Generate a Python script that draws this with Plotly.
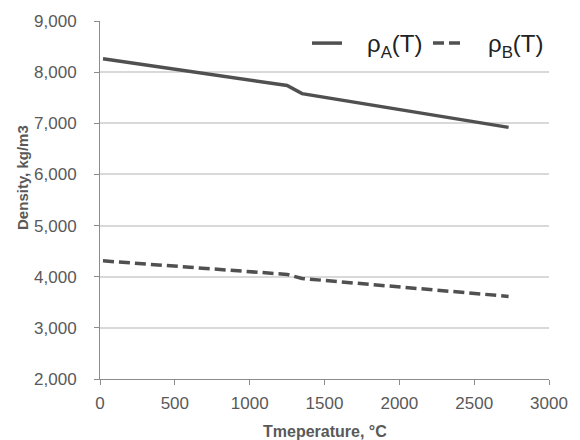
import plotly.graph_objects as go

temp_a = [20, 1250, 1350, 2730]
rho_a = [8260, 7740, 7580, 6920]
temp_b = [20, 1250, 1350, 2730]
rho_b = [4310, 4045, 3965, 3615]

x_ticks = [0, 500, 1000, 1500, 2000, 2500, 3000]
y_ticks = [2000, 3000, 4000, 5000, 6000, 7000, 8000, 9000]
y_tick_text = ["2,000", "3,000", "4,000", "5,000", "6,000", "7,000", "8,000", "9,000"]

line_color = "#505050"
font_family = "Liberation Sans, Arial, sans-serif"
label_color = "#595959"

fig = go.Figure()
fig.add_trace(go.Scatter(x=temp_a, y=rho_a, mode="lines", name="&nbsp;&nbsp;&nbsp;ρ<sub>A</sub>(T)",
                         line=dict(color=line_color, width=3.5)))
fig.add_trace(go.Scatter(x=temp_b, y=rho_b, mode="lines", name="&nbsp;&nbsp;&nbsp;ρ<sub>B</sub>(T)",
                         line=dict(color=line_color, width=3.5, dash="11px,5px")))

fig.update_layout(
    width=580, height=440,
    margin=dict(l=100, r=31, t=19, b=61),
    paper_bgcolor="white", plot_bgcolor="white",
    font=dict(family=font_family, color=label_color),
    showlegend=True,
    legend=dict(orientation="h", x=1.0, xanchor="right", y=1.0, yanchor="top",
                font=dict(size=24, color="#222222"), bgcolor="rgba(0,0,0,0)",
                entrywidth=76, entrywidthmode="pixels", tracegroupgap=0),
    xaxis=dict(range=[0, 3000], tickvals=x_ticks, showgrid=False, zeroline=False,
               showline=True, linecolor="#8c8c8c", linewidth=1,
               ticks="outside", ticklen=5, tickcolor="#8c8c8c",
               ticklabelstandoff=4,
               tickfont=dict(size=17, color=label_color)),
    yaxis=dict(range=[2000, 9000], tickvals=y_ticks, ticktext=y_tick_text,
               showgrid=True, gridcolor="#d9d9d9", gridwidth=1.5, zeroline=False,
               showline=True, linecolor="#8c8c8c", linewidth=1,
               ticks="outside", ticklen=5, tickcolor="#8c8c8c",
               ticklabelstandoff=14,
               tickfont=dict(size=17, color=label_color)),
)

fig.add_annotation(text="<b>Density, kg/m3</b>", xref="paper", yref="paper",
                   x=-0.174, y=0.564, xanchor="center", yanchor="middle",
                   textangle=-90, showarrow=False,
                   font=dict(size=15, color=label_color, family=font_family))
fig.add_annotation(text="<b>Tmeperature, °C</b>", xref="paper", yref="paper",
                   x=0.501, y=-0.147, xanchor="center", yanchor="middle",
                   showarrow=False,
                   font=dict(size=16, color=label_color, family=font_family))

fig.write_html("out.html")
